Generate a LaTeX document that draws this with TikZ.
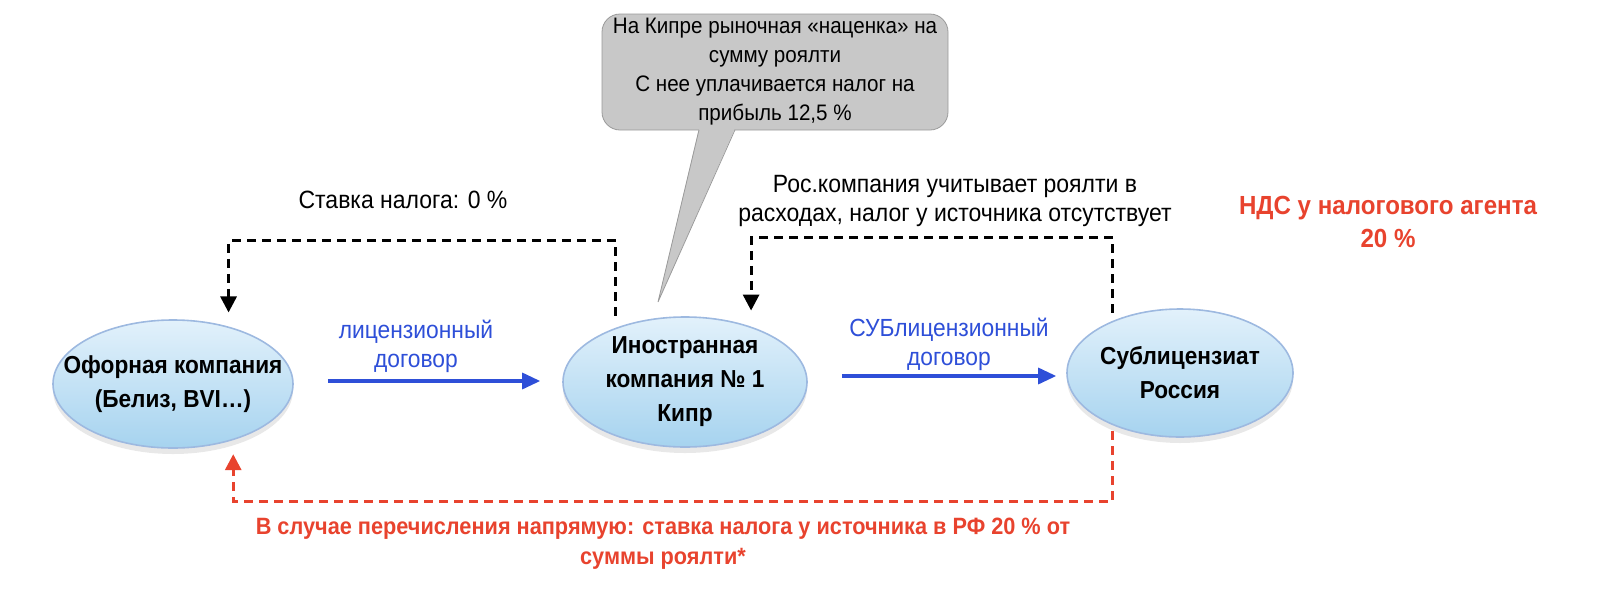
\documentclass[tikz,border=0pt]{standalone}
\usepackage{fontspec}
\setmainfont[FakeStretch=0.92]{Liberation Sans}
\usetikzlibrary{shapes.geometric,arrows.meta,shadows}

\definecolor{ovalline}{HTML}{9DB9E0}
\definecolor{ovaltop}{HTML}{E2F1FB}
\definecolor{ovalbottom}{HTML}{A6D3EF}
\definecolor{contractblue}{HTML}{2E4FD8}
\definecolor{taxred}{HTML}{E8432E}
\definecolor{notegray}{HTML}{C8C8C8}
\definecolor{noteline}{HTML}{9A9A9A}

\begin{document}
\begin{tikzpicture}[
  x=0.5pt, y=-0.5pt,
  company/.style={ellipse, draw=ovalline, thick, top color=ovaltop, bottom color=ovalbottom,
    inner sep=0pt, drop shadow={opacity=0.18, shadow xshift=0pt, shadow yshift=-3pt}},
  companyname/.style={align=center, font=\bfseries\fontsize{12.3}{17}\selectfont},
  contract/.style={draw=contractblue, line width=1.6pt, -{Triangle[width=8pt, length=9pt]}},
  contractlabel/.style={text=contractblue, align=center, font=\fontsize{12.4}{14.5}\selectfont},
  payment/.style={line width=1.5pt, dash pattern=on 4.5pt off 3pt, -{Triangle[width=8pt, length=8pt]}},
  remark/.style={align=center, font=\fontsize{12.5}{14.5}\selectfont},
  redremark/.style={align=center, text=taxred, font=\bfseries\fontsize{11.8}{15}\selectfont}
]
\useasboundingbox (0,0) rectangle (1600,595);

% companies
\node[company, minimum width=120pt, minimum height=64pt,
  label={[companyname]center:Офорная компания\\(Белиз, BVI\dots)}] (offshore) at (173,384) {};
\node[company, minimum width=122pt, minimum height=65pt,
  label={[companyname]center:Иностранная\\компания № 1\\Кипр}] (cyprus) at (685,382) {};
\node[company, minimum width=113pt, minimum height=64pt,
  label={[companyname]center:Сублицензиат\\Россия}] (russia) at (1180,373) {};

% contracts
\draw[contract, shorten <=17pt, shorten >=11pt] ([yshift=1.5pt]offshore.east) -- ([yshift=1.5pt]offshore.east -| cyprus.west);
\draw[contract, shorten <=17pt, shorten >=5pt] ([yshift=3pt]cyprus.east) -- ([yshift=3pt]cyprus.east -| russia.west);
\node[contractlabel] (licence) at (416,346) {лицензионный\\договор};
\node[contractlabel] (sublicence) at (949,344) {СУБлицензионный\\договор};

% royalties
\draw[payment] ([yshift=6pt]cyprus.142) -- ++(0,-75) -| ([yshift=7pt]offshore.46);
\draw[payment] ([yshift=4pt]russia.142) -- ++(0,-75) -| ([yshift=8pt]cyprus.40);
\draw[payment, draw=taxred] ([yshift=-3pt]russia.218) -- ++(0,70) -| ([yshift=-7pt]offshore.-43);

\node[remark] (zerorate) at (403,200) {Ставка налога: 0 \%};
\node[remark] (expenses) at (955,201) {Рос.компания учитывает роялти в\\расходах, налог у источника отсутствует};
\node[redremark, font=\bfseries\fontsize{13.1}{16.5}\selectfont] (vat) at (1388,222) {НДС у налогового агента\\20 \%};
\node[redremark] (direct) at (663,544) {В случае перечисления напрямую: ставка налога у источника в РФ 20 \% от\\суммы роялти*};

% note on Cyprus
\node[remark, font=\fontsize{11.2}{14.5}\selectfont, fill=notegray, draw=noteline, rounded corners=9pt,
  minimum width=173pt, minimum height=58pt, inner sep=2pt] (note) at (775,72)
  {На Кипре рыночная «наценка» на\\сумму роялти\\С нее уплачивается налог на\\прибыль 12,5 \%};
\coordinate (notetip) at (658,302);
\fill[notegray] ([xshift=-38pt, yshift=1pt]note.south) -- (notetip) -- ([xshift=-20pt, yshift=1pt]note.south) -- cycle;
\draw[noteline] ([xshift=-38pt, yshift=0.3pt]note.south) -- (notetip) -- ([xshift=-20pt, yshift=0.3pt]note.south);
\end{tikzpicture}
\end{document}
